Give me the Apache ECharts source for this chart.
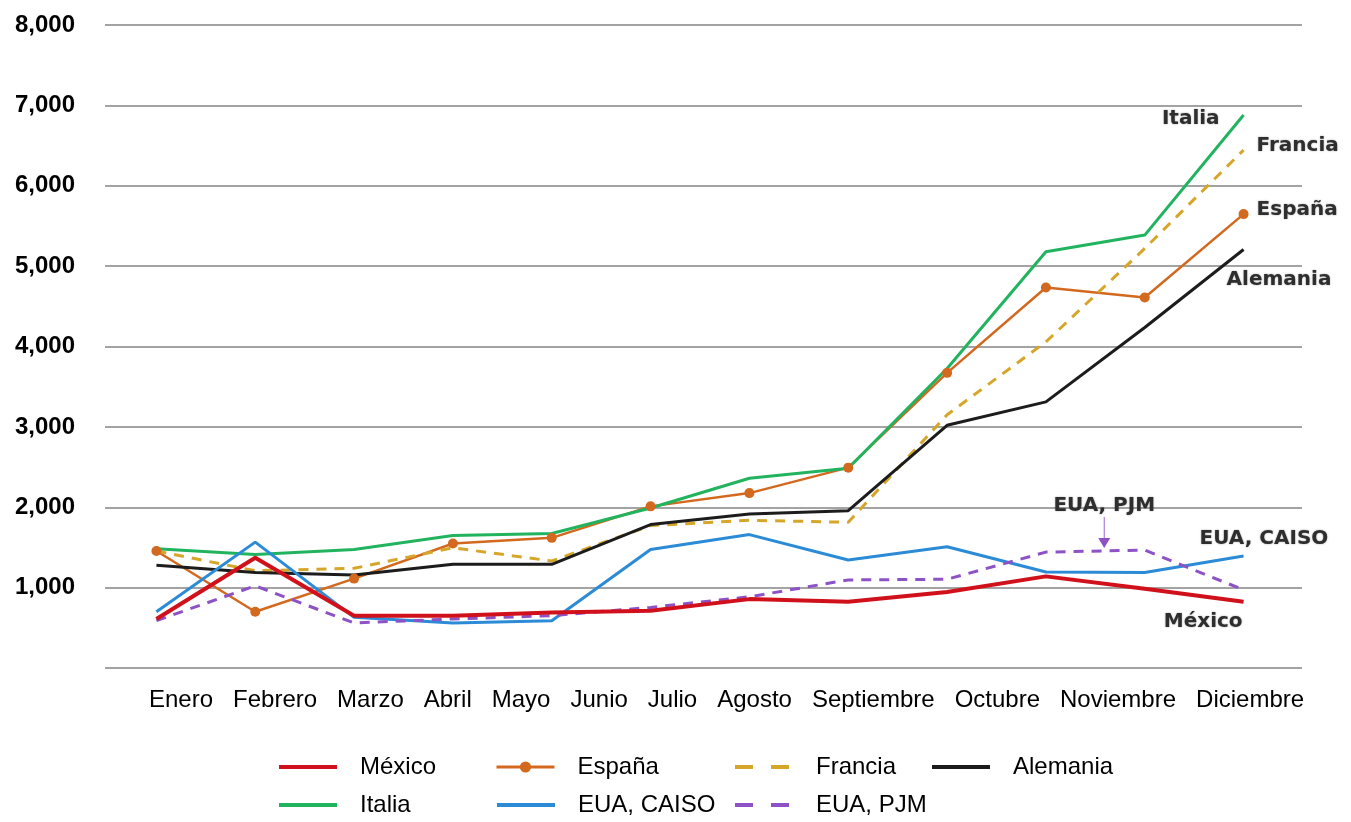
<!DOCTYPE html>
<html>
<head>
<meta charset="utf-8">
<script src="https://cdn.jsdelivr.net/npm/echarts@6/dist/echarts.min.js"></script>
<style>
html,body{margin:0;padding:0;background:#fff;}
#c{width:1351px;height:822px;}
</style>
</head>
<body>
<div id="c"></div>
<script>
const categories = ['Enero','Febrero','Marzo','Abril','Mayo','Junio','Julio','Agosto','Septiembre','Octubre','Noviembre','Diciembre'];
const mexico  = [610, 1372, 651, 651, 692, 713, 857, 824, 945, 1140, 985, 824];
const espana  = [1455, 700, 1112, 1549, 1619, 2011, 2176, 2493, 3672, 4734, 4610, 5647];
const francia = [1455, 1210, 1240, 1496, 1331, 1772, 1838, 1813, 3150, 4058, 5220, 6444];
const alemania= [1277, 1187, 1158, 1290, 1290, 1784, 1916, 1957, 3020, 3311, 4237, 5207];
const italia  = [1483, 1413, 1475, 1648, 1673, 1990, 2361, 2485, 3726, 5178, 5386, 6880];
const caiso   = [700, 1566, 630, 560, 589, 1475, 1660, 1343, 1508, 1195, 1187, 1393];
const pjm     = [589, 1022, 560, 610, 651, 754, 886, 1096, 1104, 1442, 1467, 972];
const yMin = 0, yMax = 8000, yStep = 1000;

const names = ['México','España','Francia','Alemania','Italia','EUA, CAISO','EUA, PJM'];
const values = [mexico, espana, francia, alemania, italia, caiso, pjm];
const colors = ['#d0111b','#d2691f','#d6a62a','#1c1c1c','#22b35f','#2b8bd6','#8d52c6'];
const widths = [4, 2.5, 3, 3, 3, 3, 3];
const dashed = [false, false, true, false, false, false, true];

const chart = echarts.init(document.getElementById('c'));

const series = names.map((n, i) => ({
  name: n,
  type: 'line',
  xAxisIndex: 1,
  yAxisIndex: 1,
  data: values[i],
  symbol: n === 'España' ? 'circle' : 'none',
  symbolSize: 10,
  showSymbol: n === 'España',
  itemStyle: { color: colors[i] },
  lineStyle: { color: colors[i], width: widths[i], type: dashed[i] ? [10, 8] : 'solid' },
  z: 2 + (n === 'México' ? 1 : 0),
  animation: false
}));

// legend layout (two rows, aligned columns)
const legendPos = [
  {left: 277, top: 755}, {left: 495, top: 755}, {left: 733, top: 755}, {left: 930, top: 755},
  {left: 277, top: 793}, {left: 495, top: 793}, {left: 733, top: 793}
];
const legends = names.map((n, i) => ({
  data: [n],
  left: legendPos[i].left,
  top: legendPos[i].top,
  padding: 0,
  itemWidth: 58,
  itemHeight: 14,
  itemStyle: n === 'España' ? {} : { opacity: 0 },
  lineStyle: { width: n === 'España' ? 3 : 4, type: dashed[i] ? [18, 18] : 'solid' },
  textStyle: { fontFamily: '"Liberation Sans", Arial, sans-serif', fontSize: 24, color: '#000', padding: [0, 0, 0, 18] },
  selectedMode: false
}));

chart.setOption({
  animation: false,
  backgroundColor: '#fff',
  grid: [
    { left: 105, right: 49, top: 25, bottom: 154 },   // gridlines + y labels
    { left: 107, right: 58, top: 25, bottom: 154 }    // data
  ],
  legend: legends,
  xAxis: [
    { gridIndex: 0, type: 'category', data: categories, show: false },
    { gridIndex: 1, type: 'category', data: categories, boundaryGap: true,
      axisLine: { show: false }, axisTick: { show: false }, axisLabel: { show: false } }
  ],
  yAxis: [
    {
      gridIndex: 0, type: 'value', min: yMin, max: yMax, interval: yStep,
      axisLine: { show: false }, axisTick: { show: false },
      splitLine: { lineStyle: { color: '#a3a3a3', width: 2 } },
      axisLabel: {
        margin: 30,
        fontFamily: '"Liberation Sans", Arial, sans-serif',
        fontWeight: 'bold', fontSize: 24, color: '#000',
        formatter: v => v === 0 ? '' : v.toLocaleString('en-US')
      }
    },
    {
      gridIndex: 1, type: 'value', min: yMin, max: yMax, interval: yStep,
      axisLine: { show: false }, axisTick: { show: false },
      splitLine: { show: false }, axisLabel: { show: false }
    }
  ],
  series: series
});

// x category labels, laid out as a single flowing line like the reference
const ctx = document.createElement('canvas').getContext('2d');
const xFont = '24px "Liberation Sans"';
ctx.font = xFont;
const graphics = [];
let cx = 149;
categories.forEach(c => {
  graphics.push({
    type: 'text', left: cx, top: 688, silent: true,
    style: { text: c, font: xFont, fill: '#000' }
  });
  cx += ctx.measureText(c).width + 20;
});

// series annotations anchored to data points
const annFont = 'bold 20px "DejaVu Sans"';
function px(idx, val) { return chart.convertToPixel({ gridIndex: 1 }, [idx, val]); }
const last = categories.length - 1;
const anns = [
  { t: 'Italia',     p: px(last, italia[last]),   dx: -24, dy: 4,   align: 'right' },
  { t: 'Francia',    p: px(last, francia[last]),  dx: 13,  dy: -4,  align: 'left' },
  { t: 'España',     p: px(last, espana[last]),   dx: 13,  dy: -4,  align: 'left' },
  { t: 'Alemania',   p: px(last, alemania[last]), dx: -17, dy: 30,  align: 'left' },
  { t: 'EUA, CAISO', p: px(last, caiso[last]),    dx: -44, dy: -17, align: 'left' },
  { t: 'México',     p: px(last, mexico[last]),   dx: -1,  dy: 20,  align: 'right' }
];
anns.forEach(a => {
  graphics.push({
    type: 'text', x: a.p[0] + a.dx, y: a.p[1] + a.dy, silent: true, z: 10,
    style: { text: a.t, font: annFont, fill: '#2e2e2e', align: a.align, verticalAlign: 'middle',
             textShadowColor: 'rgba(0,0,0,0.35)', textShadowBlur: 2 }
  });
});
// EUA, PJM label with arrow
const pO = px(9, pjm[9]), pN = px(10, pjm[10]);
const ax = pO[0] + (pN[0] - pO[0]) * 0.59;
const ay = pO[1] + (pN[1] - pO[1]) * 0.59;
graphics.push({
  type: 'text', x: ax, y: ay - 45, silent: true, z: 10,
  style: { text: 'EUA, PJM', font: annFont, fill: '#2e2e2e', align: 'center', verticalAlign: 'middle',
           textShadowColor: 'rgba(0,0,0,0.35)', textShadowBlur: 2 }
});
graphics.push({
  type: 'line', silent: true, z: 10,
  shape: { x1: ax, y1: ay - 34, x2: ax, y2: ay - 10 },
  style: { stroke: '#9a64d2', lineWidth: 1 }
});
graphics.push({
  type: 'polygon', silent: true, z: 10,
  shape: { points: [[ax - 6, ay - 13], [ax + 6, ay - 13], [ax, ay - 3]] },
  style: { fill: '#8d52c6' }
});

chart.setOption({ graphic: graphics });
</script>
</body>
</html>
